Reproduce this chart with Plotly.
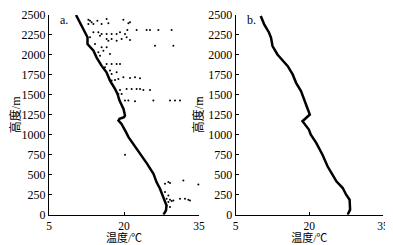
import plotly.graph_objects as go

# Main temperature profile (panel a)
temp_a = [27.9, 28.4, 28.5, 27.9, 27.2, 26.5, 25.9, 24.6, 23.2, 21.8, 20.9, 20.4, 19.5, 18.9, 19.1, 20.0, 20.2, 19.9, 19.1, 18.7, 18.2, 17.2, 16.5, 15.5, 14.5, 13.9, 12.7, 12.7, 12.2, 11.2, 10.4]
height_a = [0, 54, 116, 221, 325, 408, 512, 640, 762, 880, 971, 1033, 1137, 1179, 1200, 1220, 1241, 1325, 1429, 1512, 1575, 1679, 1783, 1866, 1970, 2054, 2137, 2221, 2283, 2387, 2500]

# Panel b profile
temp_b = [27.8, 28.3, 28.2, 27.5, 26.8, 25.5, 24.8, 23.7, 22.7, 21.4, 20.3, 19.9, 18.6, 19.0, 20.1, 19.7, 19.0, 18.3, 17.3, 16.6, 15.6, 14.5, 13.5, 12.5, 12.2, 11.8, 10.8, 10.1]
height_b = [0, 63, 188, 250, 334, 418, 493, 606, 748, 899, 1003, 1066, 1170, 1191, 1254, 1317, 1442, 1547, 1651, 1756, 1860, 1944, 2006, 2111, 2215, 2278, 2383, 2487]

# Scattered outlier points in panel a
noise_temp = [12.87, 13.2, 13.53, 13.87, 14.67, 15.53, 16.53, 16.87, 19.87, 20.87, 21.2, 12.87,
              13.87, 14.87, 15.53, 16.53, 17.53, 18.53, 20.67, 22.53, 24.53, 25.2, 26.87, 29.53, 19.2, 20.2,
              13.2, 15.2, 16.53, 17.53, 18.53, 19.53, 20.53, 21.2, 16.87,
              26.2, 29.87, 16.53, 14.2, 15.53,
              14.87, 15.87, 17.2, 15.2,
              16.53, 17.53, 18.53, 19.2, 16.2,
              17.2, 17.53, 18.53,
              18.87, 19.87, 21.2, 22.2, 23.2, 17.53, 18.2,
              19.2, 20.53, 21.53, 22.53, 23.2, 23.87, 25.2,
              18.87, 19.53,
              20.2, 20.87, 22.2, 25.87, 29.2, 30.2, 31.2, 34.87,
              20.2,
              28.2, 28.87, 29.2, 31.87, 34.87,
              28.2, 28.87,
              28.53, 29.2, 29.53, 29.87, 28.87, 31.2, 32.2, 32.87, 33.2,
              28.53, 29.2]
noise_height = [2441, 2429, 2408, 2387, 2429, 2387, 2450, 2396, 2441, 2396, 2408, 2387,
                2283, 2283, 2262, 2262, 2262, 2262, 2312, 2312, 2312, 2312, 2312, 2312, 2283, 2262,
                2221, 2241, 2200, 2200, 2179, 2200, 2221, 2187, 2179,
                2116, 2116, 2096, 2137, 2096,
                2033, 2054, 2012, 1991,
                1887, 1887, 1887, 1887, 1846,
                1804, 1762, 1783,
                1700, 1721, 1712, 1721, 1708, 1679, 1687,
                1562, 1575, 1575, 1575, 1575, 1562, 1562,
                1512, 1512,
                1429, 1429, 1421, 1429, 1429, 1429, 1429, 1429,
                750,
                387, 408, 396, 429, 379,
                283, 241,
                200, 187, 171, 179, 158, 200, 200, 187, 179,
                116, 96]

x_ticks = [5, 20, 35]
y_ticks = [0, 250, 500, 750, 1000, 1250, 1500, 1750, 2000, 2250, 2500]

# page body has an 8px margin; the figure is sized to fit the 393x245 window
OFF = 8
W, H = 393 - OFF, 245 - OFF
font = dict(family="Liberation Serif, Noto Sans CJK SC", size=12, color="black")
title_font = dict(family="Liberation Serif, Noto Sans CJK SC", size=12, color="black")
xtitle_font = dict(family="Liberation Serif, Noto Sans CJK SC", size=11, color="black")

def px_x(p):
    return (p - OFF) / W

def px_y(p):
    return (H - (p - OFF)) / H

fig = go.Figure()
fig.add_trace(go.Scatter(x=noise_temp, y=noise_height, mode="markers",
                         marker=dict(color="black", size=2), xaxis="x", yaxis="y",
                         cliponaxis=False, showlegend=False))
fig.add_trace(go.Scatter(x=temp_a, y=height_a, mode="lines",
                         line=dict(color="black", width=2.5), xaxis="x", yaxis="y",
                         cliponaxis=False, showlegend=False))
fig.add_trace(go.Scatter(x=temp_b, y=height_b, mode="lines",
                         line=dict(color="black", width=2.5), xaxis="x2", yaxis="y2",
                         cliponaxis=False, showlegend=False))

ydom = [px_y(214.7), px_y(15)]
axis_common = dict(showline=True, linecolor="black", linewidth=1, showgrid=False,
                   zeroline=False, ticks="inside", ticklen=3, tickcolor="black",
                   automargin=False)

fig.update_layout(
    width=W, height=H, margin=dict(l=0, r=0, t=0, b=0),
    paper_bgcolor="white", plot_bgcolor="white", font=font,
    xaxis=dict(domain=[px_x(49), px_x(199)], range=[5, 35], tickvals=x_ticks, anchor="y",
               tickfont=dict(font, size=11.5),
               title=dict(text="温度/℃", font=xtitle_font, standoff=2), **axis_common),
    yaxis=dict(domain=ydom, range=[0, 2500], tickvals=y_ticks, anchor="x", tickfont=font,
               title=dict(text="高度/m", font=title_font, standoff=2), **axis_common),
    xaxis2=dict(domain=[px_x(235.7), px_x(383)], range=[5, 35], tickvals=x_ticks, anchor="y2",
                tickfont=dict(font, size=11.5),
                title=dict(text="温度/℃", font=xtitle_font, standoff=2), **axis_common),
    yaxis2=dict(domain=ydom, range=[0, 2500], tickvals=y_ticks, anchor="x2", tickfont=font,
                title=dict(text="高度/m", font=title_font, standoff=2), **axis_common),
    annotations=[
        dict(text="a.", xref="x domain", yref="y domain", x=0.06, y=1.02, xanchor="left",
             yanchor="top", showarrow=False, font=font),
        dict(text="b.", xref="x2 domain", yref="y2 domain", x=0.06, y=1.02, xanchor="left",
             yanchor="top", showarrow=False, font=font),
    ],
)

fig.write_html("out.html")
